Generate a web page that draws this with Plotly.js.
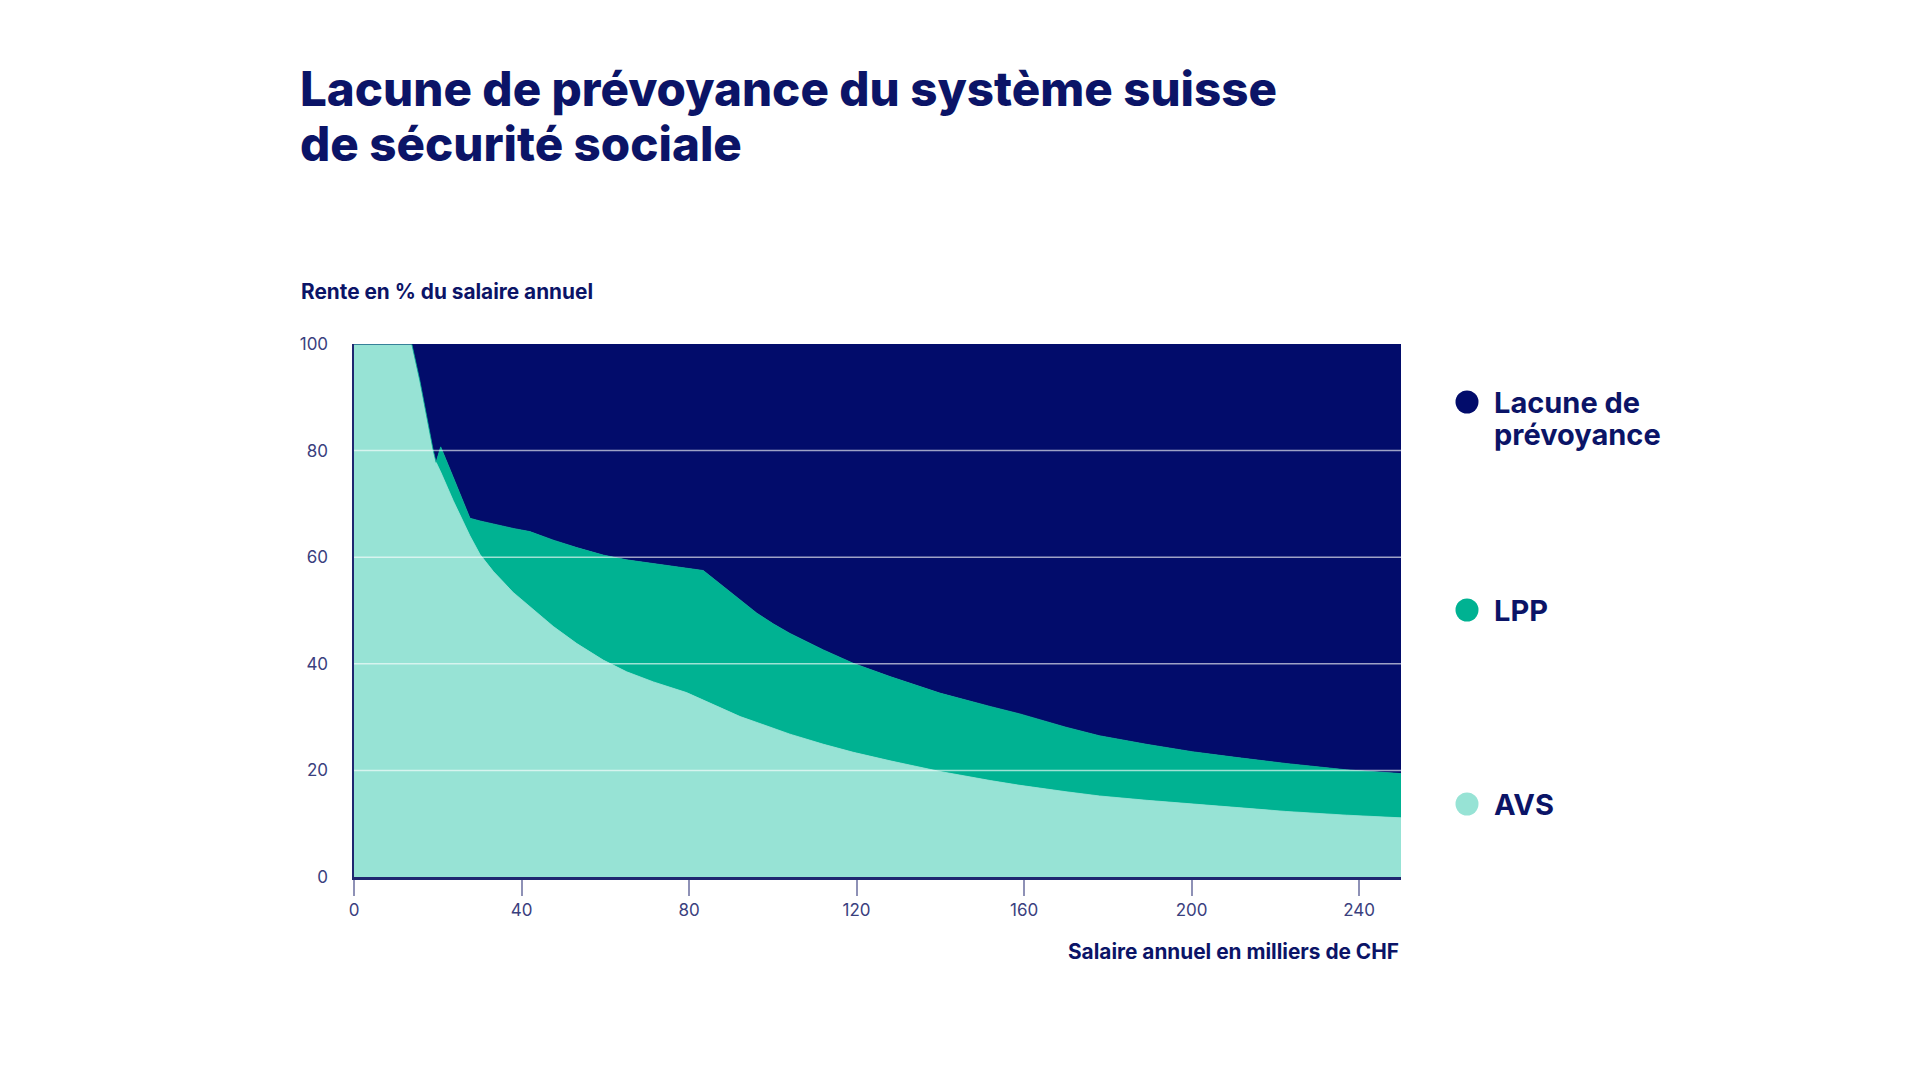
<!DOCTYPE html>
<html>
<head>
<meta charset="utf-8">
<script src="https://cdn.plot.ly/plotly-3.0.1.min.js"></script>
<style>
  html, body { margin: 0; padding: 0; background: #ffffff; }
  #chart { width: 1920px; height: 1080px; }
</style>
</head>
<body>
<div id="chart"></div>
<script>
// Salaire annuel en milliers de CHF
const salaire = [0, 13.8, 15.7, 17.3, 18.9, 19.6, 20.7, 23.7, 27.7, 30.1, 33.3, 38.0, 42.0, 47.6, 53.2, 59.5, 65.1, 71.5, 79.4, 83.4, 88.2, 92.2, 96.2, 100.1, 104.1, 112.1, 119.2, 128, 139.9, 151.9, 159, 170, 178, 189.2, 200.2, 211, 222.5, 237, 250];
// Rente AVS en % du salaire annuel
const avs = [100, 100, 93.2, 86.4, 80.1, 77.8, 76.0, 70.6, 64.0, 60.5, 57.3, 53.4, 50.7, 47.0, 43.8, 40.7, 38.5, 36.6, 34.6, 33.2, 31.6, 30.1, 29.0, 27.9, 26.8, 24.9, 23.4, 21.8, 19.8, 18.1, 17.2, 16.0, 15.2, 14.4, 13.7, 13.0, 12.3, 11.6, 11.1];
// Rente LPP en % du salaire annuel
const lpp = [0, 0, 0, 0, 0, 0, 4.7, 4.4, 3.3, 6.3, 8.9, 12.0, 14.1, 16.2, 18.0, 19.7, 21.0, 22.2, 23.4, 24.3, 22.9, 21.9, 20.5, 19.6, 18.9, 17.7, 16.7, 15.8, 14.7, 13.9, 13.4, 12.1, 11.3, 10.5, 9.8, 9.4, 9.0, 8.5, 8.3];
// Lacune de prévoyance en % du salaire annuel
const lacune = [0, 0, 6.8, 13.6, 19.9, 22.2, 19.3, 25.0, 32.7, 33.2, 33.8, 34.6, 35.2, 36.8, 38.2, 39.6, 40.5, 41.2, 42.0, 42.5, 45.5, 48.0, 50.5, 52.5, 54.3, 57.4, 59.9, 62.4, 65.5, 68.0, 69.4, 71.9, 73.5, 75.1, 76.5, 77.6, 78.7, 79.9, 80.6];

const seriesNames = ['AVS', 'LPP', 'Lacune de prévoyance'];
const xTicks = [0, 40, 80, 120, 160, 200, 240];
const yTicks = [0, 20, 40, 60, 80, 100];
const gridValues = [20, 40, 60, 80];

const NAVY = '#020c6b';
const GREEN = '#00b292';
const MINT = '#97e3d5';
const TEXT = '#0b1467';
const TICKTXT = '#3a407e';

const FONT = 'Inter, "Noto Sans", Lato, sans-serif';

function area(y, name, color) {
  return {
    x: salaire, y: y, name: name, type: 'scatter', mode: 'lines',
    stackgroup: 'rente', fillcolor: color,
    line: {color: color, width: 0.8, shape: 'linear'},
    hoverinfo: 'x+y+name', showlegend: false
  };
}

const data = [
  area(avs, seriesNames[0], MINT),
  area(lpp, seriesNames[1], GREEN),
  area(lacune, seriesNames[2], NAVY)
];

// plot area geometry (pixels)
const L = 354, R = 1401, T = 344, B = 877;
const W = 1920, H = 1080;
const px = v => (v - L) / (R - L);
const py = v => (B - v) / (B - T);

const shapes = gridValues.map(g => ({
  type: 'line', xref: 'paper', yref: 'y', x0: 0, x1: 1, y0: g, y1: g,
  line: {color: 'rgba(255,255,255,0.62)', width: 1.5}, layer: 'above'
}));

const legendItems = [
  {lines: ['Lacune de', 'prévoyance'], color: NAVY, cy: 402, gap: 32},
  {lines: ['LPP'], color: GREEN, cy: 610},
  {lines: ['AVS'], color: MINT, cy: 804}
];

legendItems.forEach(it => {
  shapes.push({
    type: 'circle', xref: 'paper', yref: 'paper',
    xsizemode: 'pixel', ysizemode: 'pixel',
    xanchor: px(1467), yanchor: py(it.cy),
    x0: -11.5, x1: 11.5, y0: -11.5, y1: 11.5,
    fillcolor: it.color, line: {width: 0}, layer: 'above'
  });
});

const annotations = [];
// second title line
annotations.push({
  xref: 'paper', yref: 'paper', x: px(297.5), y: py(143), xanchor: 'left', yanchor: 'middle',
  text: 'de sécurité sociale', showarrow: false,
  font: {family: FONT, size: 47.5, color: TEXT, weight: 800}
});
// y axis title
annotations.push({
  xref: 'paper', yref: 'paper', x: px(299), y: py(292), xanchor: 'left', yanchor: 'middle',
  text: 'Rente en % du salaire annuel', showarrow: false,
  font: {family: FONT, size: 20.8, color: TEXT, weight: 700}
});
// x axis title
annotations.push({
  xref: 'paper', yref: 'paper', x: 1, y: py(951), xanchor: 'right', yanchor: 'middle',
  text: 'Salaire annuel en milliers de CHF', showarrow: false,
  font: {family: FONT, size: 20.8, color: TEXT, weight: 700}
});
// legend text
legendItems.forEach(it => {
  it.lines.forEach((ln, i) => {
    annotations.push({
      xref: 'paper', yref: 'paper', x: px(1492), y: py(it.cy + i * (it.gap || 0)),
      xanchor: 'left', yanchor: 'middle', text: ln, showarrow: false,
      font: {family: FONT, size: 29, color: TEXT, weight: 700}
    });
  });
});

const layout = {
  width: W, height: H,
  paper_bgcolor: '#ffffff', plot_bgcolor: '#ffffff',
  margin: {l: L, r: W - R, t: T, b: H - B, pad: 0},
  showlegend: false,
  title: {
    text: 'Lacune de prévoyance du système suisse',
    xref: 'container', yref: 'container',
    x: 300 / W, xanchor: 'left', y: 1 - 89 / H, yanchor: 'middle',
    font: {family: FONT, size: 47.5, color: TEXT, weight: 800}
  },
  xaxis: {
    range: [0, 250], tickvals: xTicks, ticktext: xTicks.map(String),
    showgrid: false, zeroline: false,
    showline: true, linecolor: '#1f2770', linewidth: 2.5,
    ticks: 'outside', ticklen: 16, tickwidth: 2, tickcolor: '#8e91b6',
    tickfont: {family: FONT, size: 17, color: TICKTXT, weight: 400},
    layer: 'above traces', fixedrange: true
  },
  yaxis: {
    range: [0, 100], tickvals: yTicks, ticktext: yTicks.map(String),
    showgrid: false, zeroline: false,
    showline: true, linecolor: '#1f2770', linewidth: 2.5,
    ticks: '', ticklabelstandoff: 20,
    tickfont: {family: FONT, size: 17, color: TICKTXT, weight: 400},
    layer: 'above traces', fixedrange: true
  },
  shapes: shapes,
  annotations: annotations
};

Plotly.newPlot('chart', data, layout, {displayModeBar: false, staticPlot: true});
</script>
</body>
</html>
